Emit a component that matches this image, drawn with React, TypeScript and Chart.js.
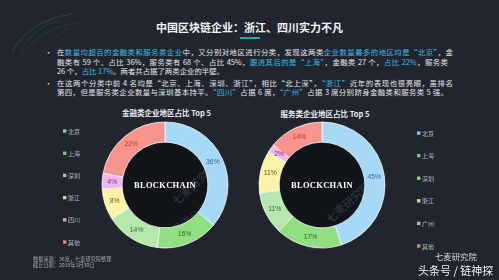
import React, { useEffect, useRef } from "react";
import { Chart, registerables } from "chart.js";

Chart.register(...registerables);

// ---------- data ----------
const finLabels = ["北京", "上海", "深圳", "浙江", "四川", "其他"];
const finValues = [36, 16, 14, 8, 4, 22];
const svcLabels = ["北京", "上海", "深圳", "浙江", "广州", "其他"];
const svcValues = [45, 17, 11, 11, 2, 14];
const finTitle = "金融类企业地区占比 Top 5";
const svcTitle = "服务类企业地区占比 Top 5";
const pageTitle = "中国区块链企业：浙江、四川实力不凡";
const centerText = "BLOCKCHAIN";

const segColors = ["#a6d9f5", "#90df80", "#b6e8ae", "#fcf2a8", "#efb8ec", "#f7958d"];
const pctColors = ["#2f6ea6", "#2e6a22", "#386a2c", "#6a5a14", "#8a2c8a", "#bf3a2c"];

type Seg = [string, number];
const bullet1: Seg[][] = [
  [["在", 0], ["数量均超百的金融类和服务类企业", 1], ["中，又分别对地区进行分类，发现这两类", 0], ["企业数量最多的地区均是“北京”", 1], ["，金", 0]],
  [["融类有 59 个、占比 36%，服务类有 68 个、占比 45%，", 0], ["跟进其后的是“上海”", 1], ["，金融类 27 个，", 0], ["占比 22%", 1], ["，服务类", 0]],
  [["26 个，", 0], ["占比 17%", 1], ["。两者共占据了两类企业的半壁。", 0]],
];
const bullet2: Seg[][] = [
  [["在这两个分类中前 4 名均是“北京、上海、深圳、浙江”，相比“北上深”，", 0], ["“浙江”", 1], ["近年的表现也很亮眼，虽排名", 0]],
  [["第四，但是服务类企业数量与深圳基本持平。", 0], ["“四川”", 1], ["占据 6 席，", 0], ["“广州”", 1], ["占据 3 席分别跻身金融类和服务类 5 强。", 0]],
];
const footLines = ["数据来源：36氪，七麦研究院整理", "截止日期：2018年3月30日"];

const BG = "#21262e";
const CYAN = "#3bbde6";

// ---------- plugin ----------
const ringDecor = {
  id: "ringDecor",
  beforeDatasetsDraw(chart: any) {
    const arc = chart.getDatasetMeta(0).data[0];
    if (!arc) return;
    const { x, y, innerRadius } = arc.getProps(["x", "y", "innerRadius"], true);
    const ctx = chart.ctx;
    ctx.save();
    ctx.fillStyle = "#111419";
    ctx.beginPath();
    ctx.arc(x, y, innerRadius, 0, Math.PI * 2);
    ctx.fill();
    ctx.restore();
  },
  afterDatasetsDraw(chart: any, _args: any, opts: any) {
    const ctx = chart.ctx;
    const meta = chart.getDatasetMeta(0);
    const vals = chart.data.datasets[0].data;
    ctx.save();
    ctx.textAlign = "center";
    ctx.textBaseline = "middle";
    ctx.font = '6.8px "Liberation Sans", sans-serif';
    meta.data.forEach((el: any, i: number) => {
      const p = el.tooltipPosition(true);
      ctx.fillStyle = pctColors[i];
      ctx.fillText(vals[i] + "%", p.x, p.y);
    });
    const a0 = meta.data[0];
    const { x, y } = a0.getProps(["x", "y"], true);
    ctx.fillStyle = "#ffffff";
    ctx.font = 'bold 8.5px "Liberation Serif", serif';
    (ctx as any).letterSpacing = "0.3px";
    ctx.fillText(centerText, x, y + 0.5);
    (ctx as any).letterSpacing = "0px";
    // side legend
    const labels = chart.data.labels;
    const colors = chart.data.datasets[0].backgroundColor;
    ctx.textAlign = "left";
    ctx.font = '6px "Noto Sans CJK SC", sans-serif';
    labels.forEach((lab: string, i: number) => {
      const cy = opts.y0 + i * opts.step;
      ctx.fillStyle = colors[i];
      ctx.globalAlpha = 0.85;
      ctx.fillRect(opts.x, cy - 1.7, 3.4, 3.4);
      ctx.globalAlpha = 1;
      ctx.fillStyle = "#b4bac4";
      ctx.fillText(lab, opts.x + 5, cy + 0.3);
    });
    ctx.restore();
  },
};

function Donut(props: {
  labels: string[];
  values: number[];
  left: number;
  top: number;
  width: number;
  height: number;
  pad: { left: number; right: number; top: number; bottom: number };
  legend: { x: number; y0: number; step: number };
}) {
  const ref = useRef<HTMLCanvasElement>(null);
  useEffect(() => {
    const chart = new Chart(ref.current as HTMLCanvasElement, {
      type: "doughnut",
      data: {
        labels: props.labels,
        datasets: [
          {
            data: props.values,
            backgroundColor: segColors,
            borderColor: "rgba(255,255,255,0.7)",
            borderWidth: 1,
          },
        ],
      },
      options: {
        responsive: false,
        animation: false,
        events: [],
        radius: 63,
        cutout: "68%",
        layout: { padding: props.pad },
        plugins: {
          legend: { display: false },
          tooltip: { enabled: false },
          ringDecor: props.legend,
        } as any,
      } as any,
      plugins: [ringDecor as any],
    });
    return () => chart.destroy();
  }, []);
  return (
    <canvas
      ref={ref}
      width={props.width}
      height={props.height}
      style={{ position: "absolute", left: props.left, top: props.top, width: props.width, height: props.height }}
    />
  );
}

function Line({ segs, top, width, justify }: { segs: Seg[]; top: number; width: number; justify: boolean }) {
  return (
    <div
      style={{
        position: "absolute",
        left: 57,
        top,
        width,
        height: 10,
        lineHeight: "10px",
        fontSize: 7.4,
        color: "#e6e9ee",
        whiteSpace: "nowrap",
        textAlign: justify ? "justify" : "left",
        textAlignLast: justify ? "justify" : "left",
      } as any}
    >
      {segs.map((s, i) => (
        <span key={i} style={{ color: s[1] ? CYAN : "#e6e9ee" }}>
          {s[0]}
        </span>
      ))}
    </div>
  );
}

export default function App() {
  return (
    <div
      style={{
        position: "fixed",
        left: 0,
        top: 0,
        width: 499,
        height: 280,
        background: BG,
        overflow: "hidden",
        fontFamily: '"Noto Sans CJK SC", sans-serif',
      }}
    >
      <svg width={120} height={70} style={{ position: "absolute", left: 0, top: 0 }}>
        <path d="M12 52 Q 30 20 72 14" stroke="rgba(70,160,180,0.35)" strokeWidth={0.7} fill="none" />
        <path d="M18 58 Q 40 28 80 22" stroke="rgba(70,160,180,0.25)" strokeWidth={0.6} fill="none" />
        <path d="M24 44 Q 38 26 60 20" stroke="rgba(70,160,180,0.25)" strokeWidth={0.6} fill="none" />
        <path d="M40 56 Q 60 30 70 28" stroke="rgba(70,160,180,0.2)" strokeWidth={0.6} fill="none" />
      </svg>
      <div
        style={{
          position: "absolute",
          left: 0,
          width: 499,
          top: 19,
          textAlign: "center",
          fontSize: 11,
          lineHeight: "16px",
          fontWeight: 700,
          color: "#f2f4f6",
        }}
      >
        {pageTitle}
      </div>
      <div style={{ position: "absolute", left: 240, top: 37, width: 20, height: 2, background: "#2aa3b6" }} />

      <div style={{ position: "absolute", left: 45, top: 47, fontSize: 7, lineHeight: "10px", color: "#e6e9ee" }}>•</div>
      <div style={{ position: "absolute", left: 45, top: 78, fontSize: 7, lineHeight: "10px", color: "#e6e9ee" }}>•</div>
      <Line segs={bullet1[0]} top={47} width={396} justify />
      <Line segs={bullet1[1]} top={57} width={391} justify />
      <Line segs={bullet1[2]} top={66} width={200} justify={false} />
      <Line segs={bullet2[0]} top={78} width={396} justify />
      <Line segs={bullet2[1]} top={87} width={391} justify />

      <div style={{ position: "absolute", left: 0, width: 333, top: 107, textAlign: "center", fontSize: 7.5, lineHeight: "12px", fontWeight: 700, color: "#e8eaee" }}>
        {finTitle}
      </div>
      <div style={{ position: "absolute", left: 250, width: 150, top: 108, textAlign: "center", fontSize: 7.5, lineHeight: "12px", fontWeight: 700, color: "#e8eaee" }}>
        {svcTitle}
      </div>

      <Donut
        labels={finLabels}
        values={finValues}
        left={40}
        top={105}
        width={200}
        height={160}
        pad={{ left: 60, right: 10, top: 0, bottom: 0 }}
        legend={{ x: 23, y0: 26, step: 22.2 }}
      />
      <Donut
        labels={svcLabels}
        values={svcValues}
        left={245}
        top={105}
        width={220}
        height={160}
        pad={{ left: 7, right: 73, top: 0, bottom: 0 }}
        legend={{ x: 172, y0: 28, step: 22.6 }}
      />

      <div style={{ position: "absolute", left: 168, top: 196, transform: "rotate(-42deg)", transformOrigin: "left top", fontSize: 11, color: "rgba(200,190,255,0.22)", whiteSpace: "nowrap" }}>
        七麦研究院
      </div>
      <div style={{ position: "absolute", left: 150, top: 238, transform: "rotate(-36deg)", transformOrigin: "left top", fontSize: 8, color: "rgba(200,190,255,0.2)", whiteSpace: "nowrap", letterSpacing: 1 }}>
        WWW.QIMAI.CN
      </div>
      <div style={{ position: "absolute", left: 322, top: 214, transform: "rotate(-42deg)", transformOrigin: "left top", fontSize: 11, color: "rgba(200,190,255,0.22)", whiteSpace: "nowrap" }}>
        七麦研究院
      </div>
      <div style={{ position: "absolute", left: 305, top: 244, transform: "rotate(-30deg)", transformOrigin: "left top", fontSize: 8, color: "rgba(200,190,255,0.2)", whiteSpace: "nowrap", letterSpacing: 1 }}>
        WWW.QIMAI.CN
      </div>

      <div style={{ position: "absolute", left: 33, top: 256, fontSize: 5.2, lineHeight: "6px", color: "#a3a9b2", whiteSpace: "nowrap" }}>
        {footLines[0]}
        <br />
        {footLines[1]}
      </div>

      <div style={{ position: "absolute", left: 435, top: 250, fontSize: 8.4, lineHeight: "12px", color: "#d8dade", whiteSpace: "nowrap" }}>
        七麦研究院
      </div>
      <div style={{ position: "absolute", left: 418, top: 262, fontSize: 11, lineHeight: "16px", color: "#f4f4f4", whiteSpace: "nowrap", textShadow: "0 0 2px rgba(0,0,0,0.6)" }}>
        头条号 / 链神探
      </div>
    </div>
  );
}
